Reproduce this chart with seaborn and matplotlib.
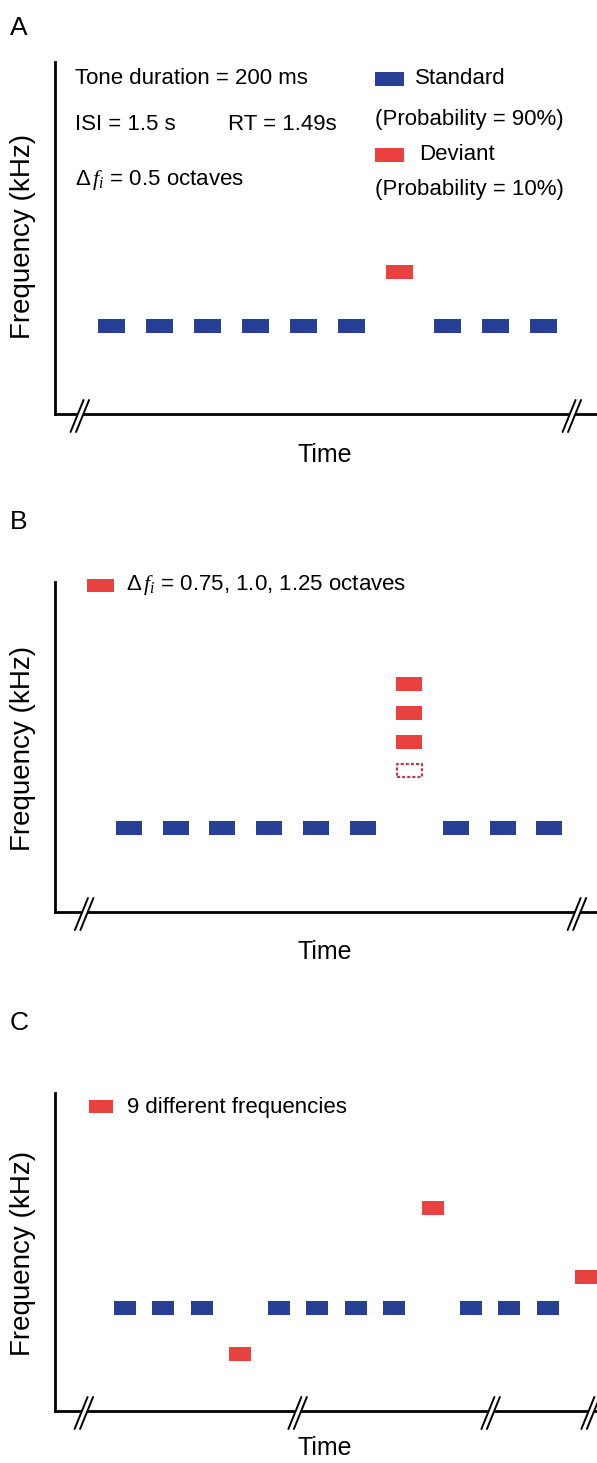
import seaborn as sns
import pandas as pd
from matplotlib import pyplot as plt
from matplotlib import font_manager
from matplotlib.patches import Rectangle
import matplotlib.transforms as mtransforms

# Panel A: oddball sequence, deviant 0.5 octaves above the standard
a_tone = [1, 2, 3, 4, 5, 6, 7, 8, 9, 10]
a_freq = [0, 0, 0, 0, 0, 0, 0.5, 0, 0, 0]
a_kind = ["Standard", "Standard", "Standard", "Standard", "Standard", "Standard",
          "Deviant", "Standard", "Standard", "Standard"]

# Panel B: larger deviants (0.75, 1.0, 1.25 octaves), dotted = old 0.5 deviant
b_tone = [1, 2, 3, 4, 5, 6, 7, 7, 7, 8, 9, 10]
b_freq = [0, 0, 0, 0, 0, 0, 0.75, 1.0, 1.25, 0, 0, 0]
b_kind = ["Standard", "Standard", "Standard", "Standard", "Standard", "Standard",
          "Deviant", "Deviant", "Deviant", "Standard", "Standard", "Standard"]
b_prev_tone = [7]
b_prev_freq = [0.5]

# Panel C: deviants drawn from 9 different frequencies
c_tone = [1, 2, 3, 4, 5, 6, 7, 8, 9, 10, 11, 12, 13]
c_freq = [0, 0, 0, -0.46, 0, 0, 0, 0, 1.0, 0, 0, 0, 0.31]
c_kind = ["Standard", "Standard", "Standard", "Deviant", "Standard", "Standard",
          "Standard", "Standard", "Deviant", "Standard", "Standard", "Standard",
          "Deviant"]

BLUE = "#283f96"
RED = "#e8413f"
palette = {"Standard": BLUE, "Deviant": RED}

sns.set_style("white")
names = {f.name for f in font_manager.fontManager.ttflist}
if "Liberation Sans Narrow" in names:
    ann = dict(family="Liberation Sans Narrow", fontsize=19)
else:
    ann = dict(family="Liberation Sans", fontsize=16)
plt.rcParams["font.family"] = ["Liberation Sans", "DejaVu Sans"]
plt.rcParams["text.color"] = "black"
plt.rcParams["axes.labelcolor"] = "black"
plt.rcParams["mathtext.fontset"] = "custom"
plt.rcParams["mathtext.rm"] = "Liberation Sans"
plt.rcParams["mathtext.it"] = "Liberation Serif:italic"

W, H = 597, 1463
fig = plt.figure(figsize=(W / 100, H / 100), dpi=100)


def fx(px):
    return px / W


def fy(py):
    return 1 - py / H


def rect_marker(aspect):
    return [(-1, -aspect), (1, -aspect), (1, aspect), (-1, aspect), (-1, -aspect)]


def draw_breaks(ax, xs):
    top, bot, hr, d = 0.14, -0.18, 0.065, 0.055
    for xb in xs:
        tr = fig.dpi_scale_trans + mtransforms.ScaledTranslation(xb, 0, ax.get_xaxis_transform())
        slope = 2 * hr / (top - bot)
        x0 = -hr + slope * (0 - bot)  # slash centre line crossing the axis
        g = 0.022
        ax.fill([x0 - d / 2 - slope * g, x0 + d / 2 - slope * g,
                 x0 + d / 2 + slope * g, x0 - d / 2 + slope * g],
                [-g, -g, g, g], color="white", transform=tr, clip_on=False, zorder=5)
        for c in (-d / 2, d / 2):
            ax.plot([c - hr, c + hr], [bot, top], color="black", lw=1.4,
                    transform=tr, clip_on=False, zorder=6)


def setup(ax, top, bottom, xlim, ylim, label_y, time_y):
    ax.set_position([fx(55), fy(bottom), 1 - fx(55), (bottom - top) / H])
    ax.set_xlim(*xlim)
    ax.set_ylim(*ylim)
    ax.set_xticks([])
    ax.set_yticks([])
    sns.despine(ax=ax)
    for s in ("left", "bottom"):
        ax.spines[s].set_linewidth(2.0)
        ax.spines[s].set_color("black")
    ax.set_ylabel("Frequency (kHz)", fontsize=20, va="center")
    ax.yaxis.set_label_coords(fx(23), fy(label_y), transform=fig.transFigure)
    ax.set_xlabel("Time", fontsize=18, va="center")
    ax.xaxis.set_label_coords(fx(325), fy(time_y), transform=fig.transFigure)


def key(px0, px1, py0, py1, color):
    fig.patches.append(Rectangle((fx(px0), fy(py1)), fx(px1) - fx(px0), (py1 - py0) / H,
                                 transform=fig.transFigure, color=color, lw=0))


def note(px, py, s, **kw):
    fig.text(fx(px), fy(py), s, ha="left", va="center", **{**ann, **kw})


axA = fig.add_axes([0, 0, 1, 1])
axB = fig.add_axes([0, 0, 1, 1])
axC = fig.add_axes([0, 0, 1, 1])

# ---- A ----
dfa = pd.DataFrame({"tone": a_tone, "freq": a_freq, "kind": a_kind})
sns.scatterplot(data=dfa, x="tone", y="freq", hue="kind", palette=palette, ax=axA,
                marker=rect_marker(0.54), s=378, linewidth=0, legend=False)
setup(axA, 62, 414, (-0.167, 11.125), (-0.815, 2.444), 236, 455)
draw_breaks(axA, [0.35, 10.6])

# ---- B ----
dfb = pd.DataFrame({"tone": b_tone, "freq": b_freq, "kind": b_kind})
sns.scatterplot(data=dfb, x="tone", y="freq", hue="kind", palette=palette, ax=axB,
                marker=rect_marker(0.52), s=350, linewidth=0, legend=False)
sns.scatterplot(x=b_prev_tone, y=b_prev_freq, ax=axB, color=RED,
                marker=rect_marker(0.5), s=320, legend=False)
prev = axB.collections[-1]
prev.set_facecolor("none")
prev.set_edgecolor("#b0404c")
prev.set_linewidth(1.6)
prev.set_linestyle((0, (1.4, 0.9)))
setup(axB, 582, 912, (-0.585, 11.02), (-0.73, 2.139), 748, 952)
draw_breaks(axB, [0.04, 10.59])

# ---- C ----
dfc = pd.DataFrame({"tone": c_tone, "freq": c_freq, "kind": c_kind})
sns.scatterplot(data=dfc, x="tone", y="freq", hue="kind", palette=palette, ax=axC,
                marker=rect_marker(0.6), s=251, linewidth=0, legend=False)
setup(axC, 1093, 1411, (-0.82, 13.276), (-1.03, 2.15), 1253, 1448)
draw_breaks(axC, [-0.07, 5.49, 10.51, 13.11])

# panel letters
for letter, py in (("A", 28), ("B", 522), ("C", 1023)):
    fig.text(fx(10), fy(py), letter, ha="left", va="center", fontsize=19)

# panel A annotations and legend
note(75, 79, "Tone duration = 200 ms")
note(75, 125, "ISI = 1.5 s")
note(228, 125, "RT = 1.49s")
note(75, 180, r"$\Delta\,f_i$ = 0.5 octaves")
key(375, 404, 72, 86, BLUE)
note(415, 79, "Standard")
note(375, 120, "(Probability = 90%)")
key(375, 404, 148, 162, RED)
note(419, 155, "Deviant")
note(375, 190, "(Probability = 10%)")

# panel B legend
key(87, 114, 579, 592, RED)
note(126, 585, r"$\Delta\,f_i$ = 0.75, 1.0, 1.25 octaves")

# panel C legend
key(89, 113, 1100, 1113, RED)
note(127, 1107, "9 different frequencies")

fig.savefig("out.png", dpi=100)
